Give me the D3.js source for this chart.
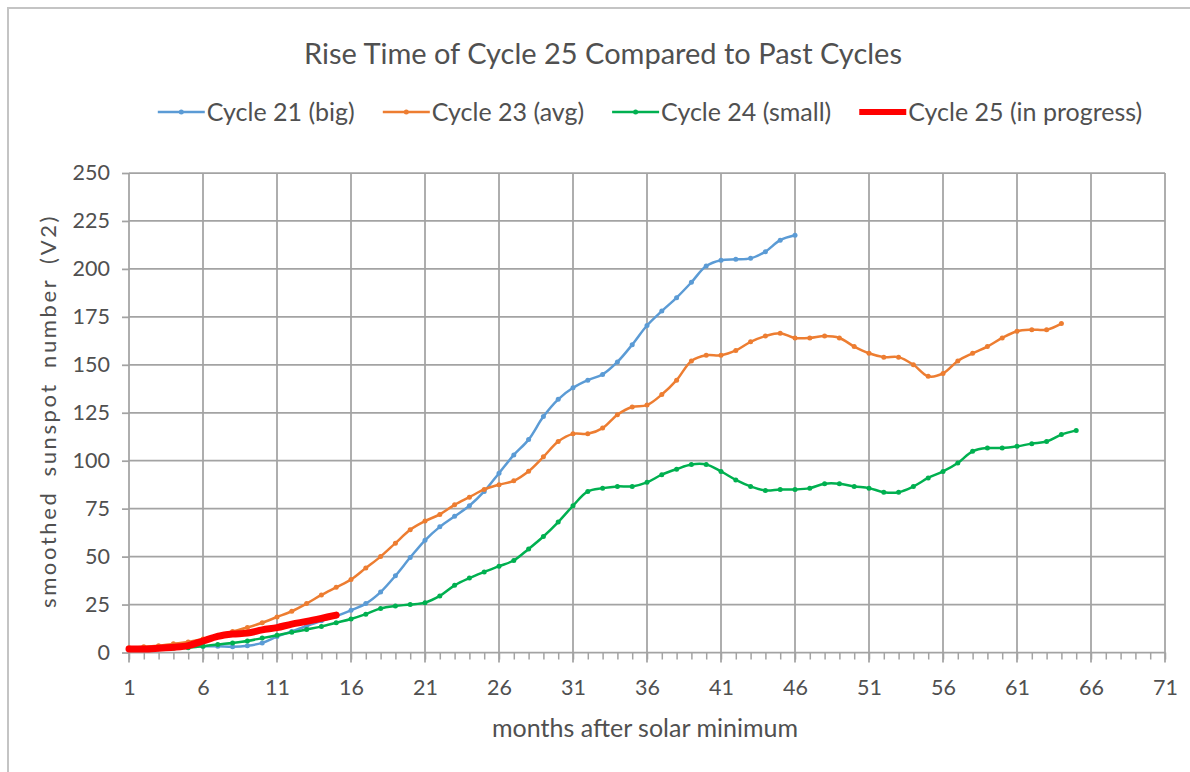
<!DOCTYPE html>
<html>
<head>
<meta charset="utf-8">
<script src="https://cdn.jsdelivr.net/npm/d3@7"></script>
<style>
  body { margin: 0; background: #fff; }
  text { font-family: Lato, "Open Sans", sans-serif; fill: #505050; }
</style>
</head>
<body>
<svg id="chart" width="1190" height="772"></svg>
<script>
// smoothed sunspot numbers, one value per month after minimum (month 1 first)
let cycle21 = [2.2, 2.4, 2.5, 2.6, 3.0, 3.2, 3.3, 3.0, 3.5, 5.0, 8.3, 11, 13.8, 16.5, 19, 22, 25.5, 31.5, 40, 49.5,
  58.5, 65.5, 71, 76.5, 84, 93.5, 103, 111, 123, 132, 138, 142, 145, 151.5, 160.5, 170.5, 178, 185, 193, 201.5,
  204.5, 205, 205.5, 209, 215, 217.5];
let cycle23 = [2.5, 3, 3.5, 4.5, 5.5, 7, 9, 11, 13, 15.5, 18.5, 21.5, 25.5, 30, 34, 38, 44, 50, 57, 64,
  68.5, 72, 77, 81, 85, 87.5, 89.5, 94.5, 102, 110, 114, 114, 117, 124, 128, 129, 134.5, 142, 152, 155,
  155, 157.5, 162, 165, 166.5, 164, 164, 165, 164, 159.5, 156, 154, 154, 150, 144, 145.5, 152, 156, 159.5, 164,
  167.5, 168.3, 168.3, 171.5];
let cycle24 = [1.5, 1.8, 2, 2.2, 2.5, 3.3, 4.2, 5, 6, 7.5, 9, 10.5, 12, 13.5, 15.5, 17.5, 20, 23, 24.3, 25,
  26, 29.5, 35, 38.8, 42, 45, 48, 54, 60.5, 68, 76.5, 84, 85.7, 86.6, 86.6, 88.7, 92.7, 95.6, 98, 98,
  94.4, 90, 86.6, 84.5, 85, 85, 85.7, 88, 88, 86.6, 85.7, 83.6, 83.6, 86.6, 91, 94.4, 98.8, 104.9, 106.6, 106.6,
  107.5, 108.9, 110, 113.6, 115.8];
let cycle25 = [1.8, 1.8, 2.2, 2.7, 3.6, 6, 8.4, 9.6, 10.1, 11.8, 13, 14.8, 16.2, 17.8, 19.5];

let seriesNames = ["Cycle 21 (big)", "Cycle 23 (avg)", "Cycle 24 (small)", "Cycle 25 (in progress)"];
let seriesColors = ["#5b9bd5", "#ed7d31", "#00b050", "#ff0000"];
let allSeries = [cycle21, cycle23, cycle24, cycle25];

let monthTicks = [1, 6, 11, 16, 21, 26, 31, 36, 41, 46, 51, 56, 61, 66, 71];
let allMonths = d3.range(1, 72);
let valueTicks = [0, 25, 50, 75, 100, 125, 150, 175, 200, 225, 250];

let margin = {top: 173, right: 25, bottom: 119.5, left: 129};
let width = 1190 - margin.left - margin.right;
let height = 772 - margin.top - margin.bottom;

let svg = d3.select("#chart");

// outer chart frame
svg.append("rect")
  .attr("x", 8).attr("y", 8)
  .attr("width", 1300).attr("height", 900)
  .attr("fill", "none")
  .attr("stroke", "#c4c4c4")
  .attr("stroke-width", 2);

let g = svg.append("g")
  .attr("transform", "translate(" + margin.left + "," + margin.top + ")");

let x = d3.scaleLinear().domain([1, 71]).range([0, width]);
let y = d3.scaleLinear().domain([0, 250]).range([height, 0]);

let gridColor = "#a3a3a3";

// horizontal grid + left ticks
let yAxis = g.append("g")
  .call(d3.axisLeft(y).tickValues(valueTicks).tickSize(7).tickPadding(12));
yAxis.select(".domain").remove();
yAxis.selectAll("line").attr("stroke", gridColor).attr("stroke-width", 1.75);
yAxis.selectAll("text").style("font-size", "21.5px").attr("fill", "#505050");
g.append("g")
  .selectAll("line").data(valueTicks).join("line")
  .attr("x1", 0).attr("x2", width)
  .attr("y1", d => y(d)).attr("y2", d => y(d))
  .attr("stroke", gridColor).attr("stroke-width", 1.75);

// vertical grid
g.append("g")
  .selectAll("line").data(monthTicks).join("line")
  .attr("x1", d => x(d)).attr("x2", d => x(d))
  .attr("y1", 0).attr("y2", height + 10)
  .attr("stroke", gridColor).attr("stroke-width", 1.75);

// minor month ticks
let minor = g.append("g")
  .attr("transform", "translate(0," + height + ")")
  .call(d3.axisBottom(x).tickValues(allMonths).tickSize(7).tickFormat(""));
minor.select(".domain").remove();
minor.selectAll("line").attr("stroke", gridColor).attr("stroke-width", 1.5);

// month labels
let xAxis = g.append("g")
  .attr("transform", "translate(0," + height + ")")
  .call(d3.axisBottom(x).tickValues(monthTicks).tickSize(0).tickPadding(27));
xAxis.select(".domain").remove();
xAxis.selectAll("text").style("font-size", "21.5px").attr("fill", "#505050");

// series
let line = d3.line()
  .x((d, i) => x(i + 1))
  .y(d => y(d))
  .curve(d3.curveCatmullRom.alpha(0.5));

allSeries.forEach(function(values, k) {
  let isCurrent = k === 3;
  g.append("path")
    .attr("d", line(values))
    .attr("fill", "none")
    .attr("stroke", seriesColors[k])
    .attr("stroke-width", isCurrent ? 7 : 2.5)
    .attr("stroke-linecap", "round")
    .attr("stroke-linejoin", "round");
  if (!isCurrent) {
    g.append("g").selectAll("circle").data(values).join("circle")
      .attr("cx", (d, i) => x(i + 1))
      .attr("cy", d => y(d))
      .attr("r", 2.5)
      .attr("fill", seriesColors[k]);
  }
});

// title
svg.append("text")
  .attr("x", 603).attr("y", 64)
  .attr("text-anchor", "middle")
  .style("font-size", "29px")
  .text("Rise Time of Cycle 25 Compared to Past Cycles");

// legend
let legend = svg.append("g");
let lx = 0;
seriesNames.forEach(function(name, k) {
  let item = legend.append("g").attr("transform", "translate(" + lx + ",0)");
  item.append("line")
    .attr("x1", 0).attr("x2", 47).attr("y1", 0).attr("y2", 0)
    .attr("stroke", seriesColors[k])
    .attr("stroke-width", k === 3 ? 6 : 2.5);
  if (k < 3) {
    item.append("circle").attr("cx", 23.5).attr("cy", 0).attr("r", 2.5).attr("fill", seriesColors[k]);
  }
  let t = item.append("text")
    .attr("x", 49).attr("y", 0)
    .attr("dy", "0.35em")
    .style("font-size", "25px")
    .text(name);
  lx += 49 + t.node().getComputedTextLength() + 28;
});
let legendWidth = lx - 28;
legend.attr("transform", "translate(" + (650 - legendWidth / 2) + ",112)");

// axis titles
svg.append("text")
  .attr("transform", "translate(48,411) rotate(-90)")
  .attr("text-anchor", "middle")
  .attr("dy", "0.35em")
  .style("font-size", "22px")
  .style("letter-spacing", "2.6px")
  .style("word-spacing", "6px")
  .text("smoothed sunspot number (V2)");

svg.append("text")
  .attr("x", 645).attr("y", 728)
  .attr("text-anchor", "middle")
  .attr("dy", "0.35em")
  .style("font-size", "25px")
  .text("months after solar minimum");
</script>
</body>
</html>
